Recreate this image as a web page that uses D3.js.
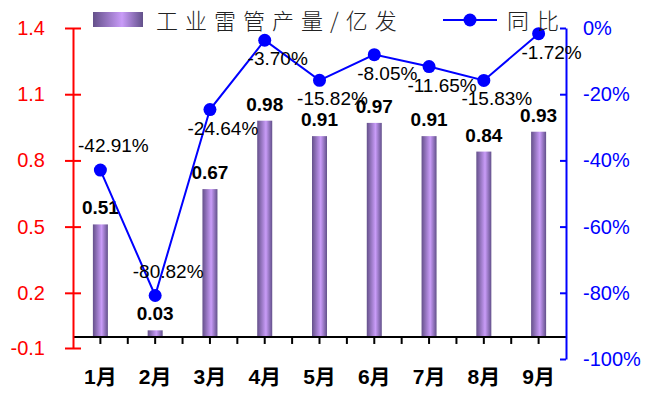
<!DOCTYPE html>
<html>
<head>
<meta charset="utf-8">
<script src="https://cdn.jsdelivr.net/npm/d3@7"></script>
<style>
  html, body { margin: 0; padding: 0; background: #fff; }
  svg { display: block; }
</style>
</head>
<body>
<svg id="chart" width="647" height="393"></svg>
<script>
// ---- data ----
const months = ["1月", "2月", "3月", "4月", "5月", "6月", "7月", "8月", "9月"];
const output = [0.51, 0.03, 0.67, 0.98, 0.91, 0.97, 0.91, 0.84, 0.93];
const yoy = [-42.91, -80.82, -24.64, -3.70, -15.82, -8.05, -11.65, -15.83, -1.72];
const yoyLabelSide = ["above", "above", "below", "below", "below", "below", "below", "below", "below"];
const leftTickValues = [-0.05, 0.2, 0.5, 0.8, 1.1, 1.4];
const leftTickLabels = ["-0.1", "0.2", "0.5", "0.8", "1.1", "1.4"];
const rightTickValues = [-100, -80, -60, -40, -20, 0];
const seriesNames = ["工业雷管产量/亿发", "同比"];

// ---- layout ----
const svg = d3.select("#chart");
const L = 73, R = 566, T = 28;
const font = "Arial, 'Liberation Sans', 'Noto Sans CJK SC', sans-serif";
const cjkFont = "'Noto Sans CJK SC', sans-serif";

const x = d3.scaleBand().domain(months).range([L, R]).padding(0);
const yL = d3.scaleLinear().domain([-0.05, 1.4]).range([348, T]);
const yR = d3.scaleLinear().domain([-100, 0]).range([359, T]);

// gradient
const defs = svg.append("defs");
const grad = defs.append("linearGradient").attr("id", "barGrad")
  .attr("x1", "0%").attr("x2", "100%").attr("y1", "0%").attr("y2", "0%");
grad.append("stop").attr("offset", "0%").attr("stop-color", "#64508a");
grad.append("stop").attr("offset", "58%").attr("stop-color", "#c99cf8");
grad.append("stop").attr("offset", "100%").attr("stop-color", "#62508a");

// bars
const barW = 15;
svg.append("g").selectAll("rect").data(output).join("rect")
  .attr("x", (d, i) => x(months[i]) + x.bandwidth() / 2 - barW / 2)
  .attr("y", d => yL(d))
  .attr("width", barW)
  .attr("height", d => yL(0) - yL(d))
  .attr("fill", "url(#barGrad)");

// bar labels
svg.append("g").selectAll("text").data(output).join("text")
  .attr("x", (d, i) => x(months[i]) + x.bandwidth() / 2)
  .attr("y", d => yL(d) - 10)
  .attr("text-anchor", "middle")
  .attr("font-family", font).attr("font-weight", "bold").attr("font-size", 19)
  .attr("fill", "#000")
  .text(d => d.toFixed(2));

// x axis line at 0
const xAxisY = yL(0);
const xg = svg.append("g");
xg.append("line").attr("x1", L).attr("x2", R).attr("y1", xAxisY).attr("y2", xAxisY)
  .attr("stroke", "#000").attr("stroke-width", 2);
const halfTicks = [];
months.forEach((m, i) => {
  halfTicks.push(x(m) + x.bandwidth() / 2);
  if (i > 0) halfTicks.push(x(m));
});
xg.selectAll("line.t").data(halfTicks).join("line").attr("class", "t")
  .attr("x1", d => d).attr("x2", d => d)
  .attr("y1", xAxisY).attr("y2", xAxisY + 7)
  .attr("stroke", "#000").attr("stroke-width", 2);
xg.selectAll("text").data(months).join("text")
  .attr("x", d => x(d) + x.bandwidth() / 2)
  .attr("y", 384)
  .attr("text-anchor", "middle")
  .attr("font-family", font).attr("font-weight", "bold").attr("font-size", 21)
  .attr("fill", "#000")
  .text(d => d);

// left axis
const lAxis = d3.axisLeft(yL).tickValues(leftTickValues)
  .tickFormat((d, i) => leftTickLabels[i]).tickSizeOuter(0).tickSizeInner(8).tickPadding(20);
const lg = svg.append("g").attr("transform", `translate(${L},0)`).call(lAxis);
lg.select(".domain").attr("stroke", "#ff0000").attr("stroke-width", 2);
lg.selectAll(".tick line").attr("stroke", "#ff0000").attr("stroke-width", 2).attr("x1", 8).attr("x2", -8);
lg.selectAll(".tick text").attr("fill", "#ff0000").attr("font-family", font).attr("font-size", 20);

// right axis
const rAxis = d3.axisRight(yR).tickValues(rightTickValues)
  .tickFormat(d => d + "%").tickSizeOuter(0).tickSizeInner(6).tickPadding(11);
const rg = svg.append("g").attr("transform", `translate(${R},0)`).call(rAxis);
rg.select(".domain").attr("stroke", "#0000ff").attr("stroke-width", 2);
rg.selectAll(".tick line").attr("stroke", "#0000ff").attr("stroke-width", 2).attr("x1", -6).attr("x2", 0);
rg.selectAll(".tick text").attr("fill", "#0000ff").attr("font-family", font).attr("font-size", 20);

// line
const cx = (d, i) => x(months[i]) + x.bandwidth() / 2;
const line = d3.line().x((d, i) => cx(d, i)).y(d => yR(d));
svg.append("path").datum(yoy).attr("d", line)
  .attr("fill", "none").attr("stroke", "#0000ff").attr("stroke-width", 2);
svg.append("g").selectAll("circle").data(yoy).join("circle")
  .attr("cx", cx).attr("cy", d => yR(d)).attr("r", 6.5).attr("fill", "#0000ff");
svg.append("g").selectAll("text").data(yoy).join("text")
  .attr("x", (d, i) => cx(d, i) + 13)
  .attr("y", (d, i) => yR(d) + (yoyLabelSide[i] === "above" ? -18 : 25))
  .attr("text-anchor", "middle")
  .attr("font-family", font).attr("font-size", 19).attr("fill", "#000")
  .text(d => d.toFixed(2) + "%");

// legend
const leg = svg.append("g");
leg.append("rect").attr("x", 93).attr("y", 12).attr("width", 50).attr("height", 15)
  .attr("fill", "url(#barGrad)");
leg.append("text").attr("x", 156).attr("y", 29)
  .attr("font-family", cjkFont).attr("font-size", 22).attr("font-weight", 300)
  .attr("letter-spacing", 7).attr("fill", "#222")
  .text(seriesNames[0]);
leg.append("line").attr("x1", 443).attr("x2", 497).attr("y1", 20).attr("y2", 20)
  .attr("stroke", "#0000ff").attr("stroke-width", 2);
leg.append("circle").attr("cx", 470).attr("cy", 20).attr("r", 6.5).attr("fill", "#0000ff");
leg.append("text").attr("x", 507).attr("y", 29)
  .attr("font-family", cjkFont).attr("font-size", 22).attr("font-weight", 300)
  .attr("letter-spacing", 8).attr("fill", "#222")
  .text(seriesNames[1]);
</script>
</body>
</html>
